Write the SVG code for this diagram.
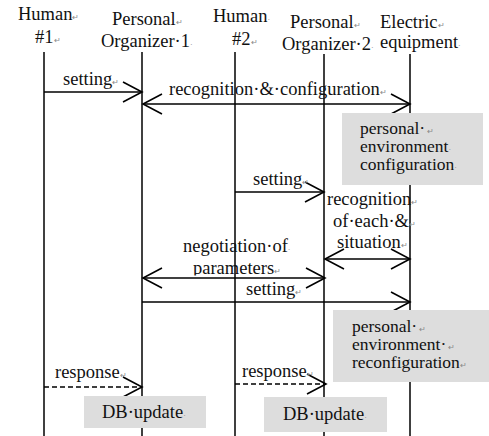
<svg xmlns="http://www.w3.org/2000/svg" width="489" height="436" viewBox="0 0 489 436">
  <style>
    text { font-family: "Liberation Serif", "Times New Roman", serif; font-size: 18.5px; fill: #111; }
    .nt { font-size: 17.5px; }
    .pm { font-size: 8px; fill: #888; }
    .life { stroke: #000; stroke-width: 1.5; fill: none; }
    .msg { stroke: #000; stroke-width: 1.5; fill: none; marker-end: url(#head); }
    .both { marker-start: url(#head); }
    .dash { stroke-dasharray: 5 3; }
    .note { fill: #dddddd; stroke: none; }
  </style>
  <defs>
    <marker id="head" markerUnits="userSpaceOnUse" viewBox="-22 -12 24 24" refX="0" refY="0" markerWidth="24" markerHeight="24" orient="auto-start-reverse">
      <path d="M-19,-10 L0,0 L-19,10" fill="none" stroke="#000" stroke-width="1.6"/>
    </marker>
    <clipPath id="negClip">
      <rect x="150" y="230" width="160" height="45.5"/>
    </clipPath>
  </defs>

  <!-- participants: heading and lifeline -->
  <g id="human1">
    <text><tspan x="18" y="20">Human<tspan class="pm">↵</tspan></tspan><tspan x="35" y="43">#1<tspan class="pm">↵</tspan></tspan></text>
    <line class="life" x1="44" y1="52" x2="44" y2="436"/>
  </g>
  <g id="organizer1">
    <text><tspan x="112" y="25">Personal<tspan class="pm">↵</tspan></tspan><tspan x="101" y="47">Organizer·1<tspan class="pm">·</tspan></tspan></text>
    <line class="life" x1="142" y1="52" x2="142" y2="436"/>
  </g>
  <g id="human2">
    <text><tspan x="213" y="22">Human<tspan class="pm">·</tspan></tspan><tspan x="232" y="45">#2<tspan class="pm">↵</tspan></tspan></text>
    <line class="life" x1="235" y1="52" x2="235" y2="436"/>
  </g>
  <g id="organizer2">
    <text><tspan x="290" y="28">Personal<tspan class="pm">↵</tspan></tspan><tspan x="282" y="50">Organizer·2<tspan class="pm">·</tspan></tspan></text>
    <line class="life" x1="324" y1="54" x2="324" y2="436"/>
  </g>
  <g id="equipment">
    <text><tspan x="380" y="28">Electric<tspan class="pm">↵</tspan></tspan><tspan x="380" y="48">equipment<tspan class="pm">·</tspan></tspan></text>
    <line class="life" x1="410" y1="54" x2="410" y2="436"/>
  </g>

  <!-- messages -->
  <g id="connectors">
    <line class="msg" x1="44" y1="92" x2="142" y2="92"/>
    <text x="63" y="85">setting<tspan class="pm">↵</tspan></text>

    <line class="msg both" x1="143" y1="104" x2="410" y2="104"/>
    <text x="169" y="95">recognition·&amp;·configuration<tspan class="pm">↵</tspan></text>

    <line class="msg" x1="235" y1="192" x2="324" y2="192"/>
    <text x="253" y="185">setting<tspan class="pm">↵</tspan></text>

    <text><tspan x="327" y="205">recognition<tspan class="pm">↵</tspan></tspan><tspan x="333" y="227">of·each·&amp;<tspan class="pm">↵</tspan></tspan><tspan x="337" y="248">situation<tspan class="pm">↵</tspan></tspan></text>
    <line class="msg both" x1="325" y1="259" x2="410" y2="259"/>

    <text clip-path="url(#negClip)"><tspan x="183" y="252">negotiation·of<tspan class="pm">·</tspan></tspan><tspan x="193" y="274">parameters<tspan class="pm">↵</tspan></tspan></text>
    <line class="msg both" x1="143" y1="278" x2="325" y2="278"/>

    <line class="msg" x1="142" y1="302" x2="410" y2="302"/>
    <text x="246" y="295">setting<tspan class="pm">↵</tspan></text>

    <line class="msg dash" x1="44" y1="387" x2="142" y2="387"/>
    <text x="55" y="378">response<tspan class="pm">↵</tspan></text>

    <line class="msg dash" x1="235" y1="384" x2="326" y2="384"/>
    <text x="242" y="377">response<tspan class="pm">↵</tspan></text>
  </g>

  <!-- shaded process notes -->
  <g id="note-configuration">
    <rect class="note" x="342" y="113" width="141" height="72"/>
    <text class="nt"><tspan x="360" y="134">personal·<tspan class="pm"> ↵</tspan></tspan><tspan x="360" y="152">environment<tspan class="pm">·</tspan></tspan><tspan x="360" y="170">configuration<tspan class="pm">·</tspan></tspan></text>
  </g>
  <g id="note-reconfiguration">
    <rect class="note" x="333" y="310" width="156" height="72"/>
    <text class="nt"><tspan x="352" y="332">personal·<tspan class="pm"> ↵</tspan></tspan><tspan x="352" y="350">environment·<tspan class="pm"> ↵</tspan></tspan><tspan x="352" y="368">reconfiguration<tspan class="pm">↵</tspan></tspan></text>
  </g>
  <g id="note-db1">
    <rect class="note" x="84" y="396" width="122" height="32"/>
    <text x="102" y="418">DB·update<tspan class="pm">·</tspan></text>
  </g>
  <g id="note-db2">
    <rect class="note" x="264" y="397" width="123" height="35"/>
    <text x="283" y="420">DB·update<tspan class="pm">·</tspan></text>
  </g>
</svg>
